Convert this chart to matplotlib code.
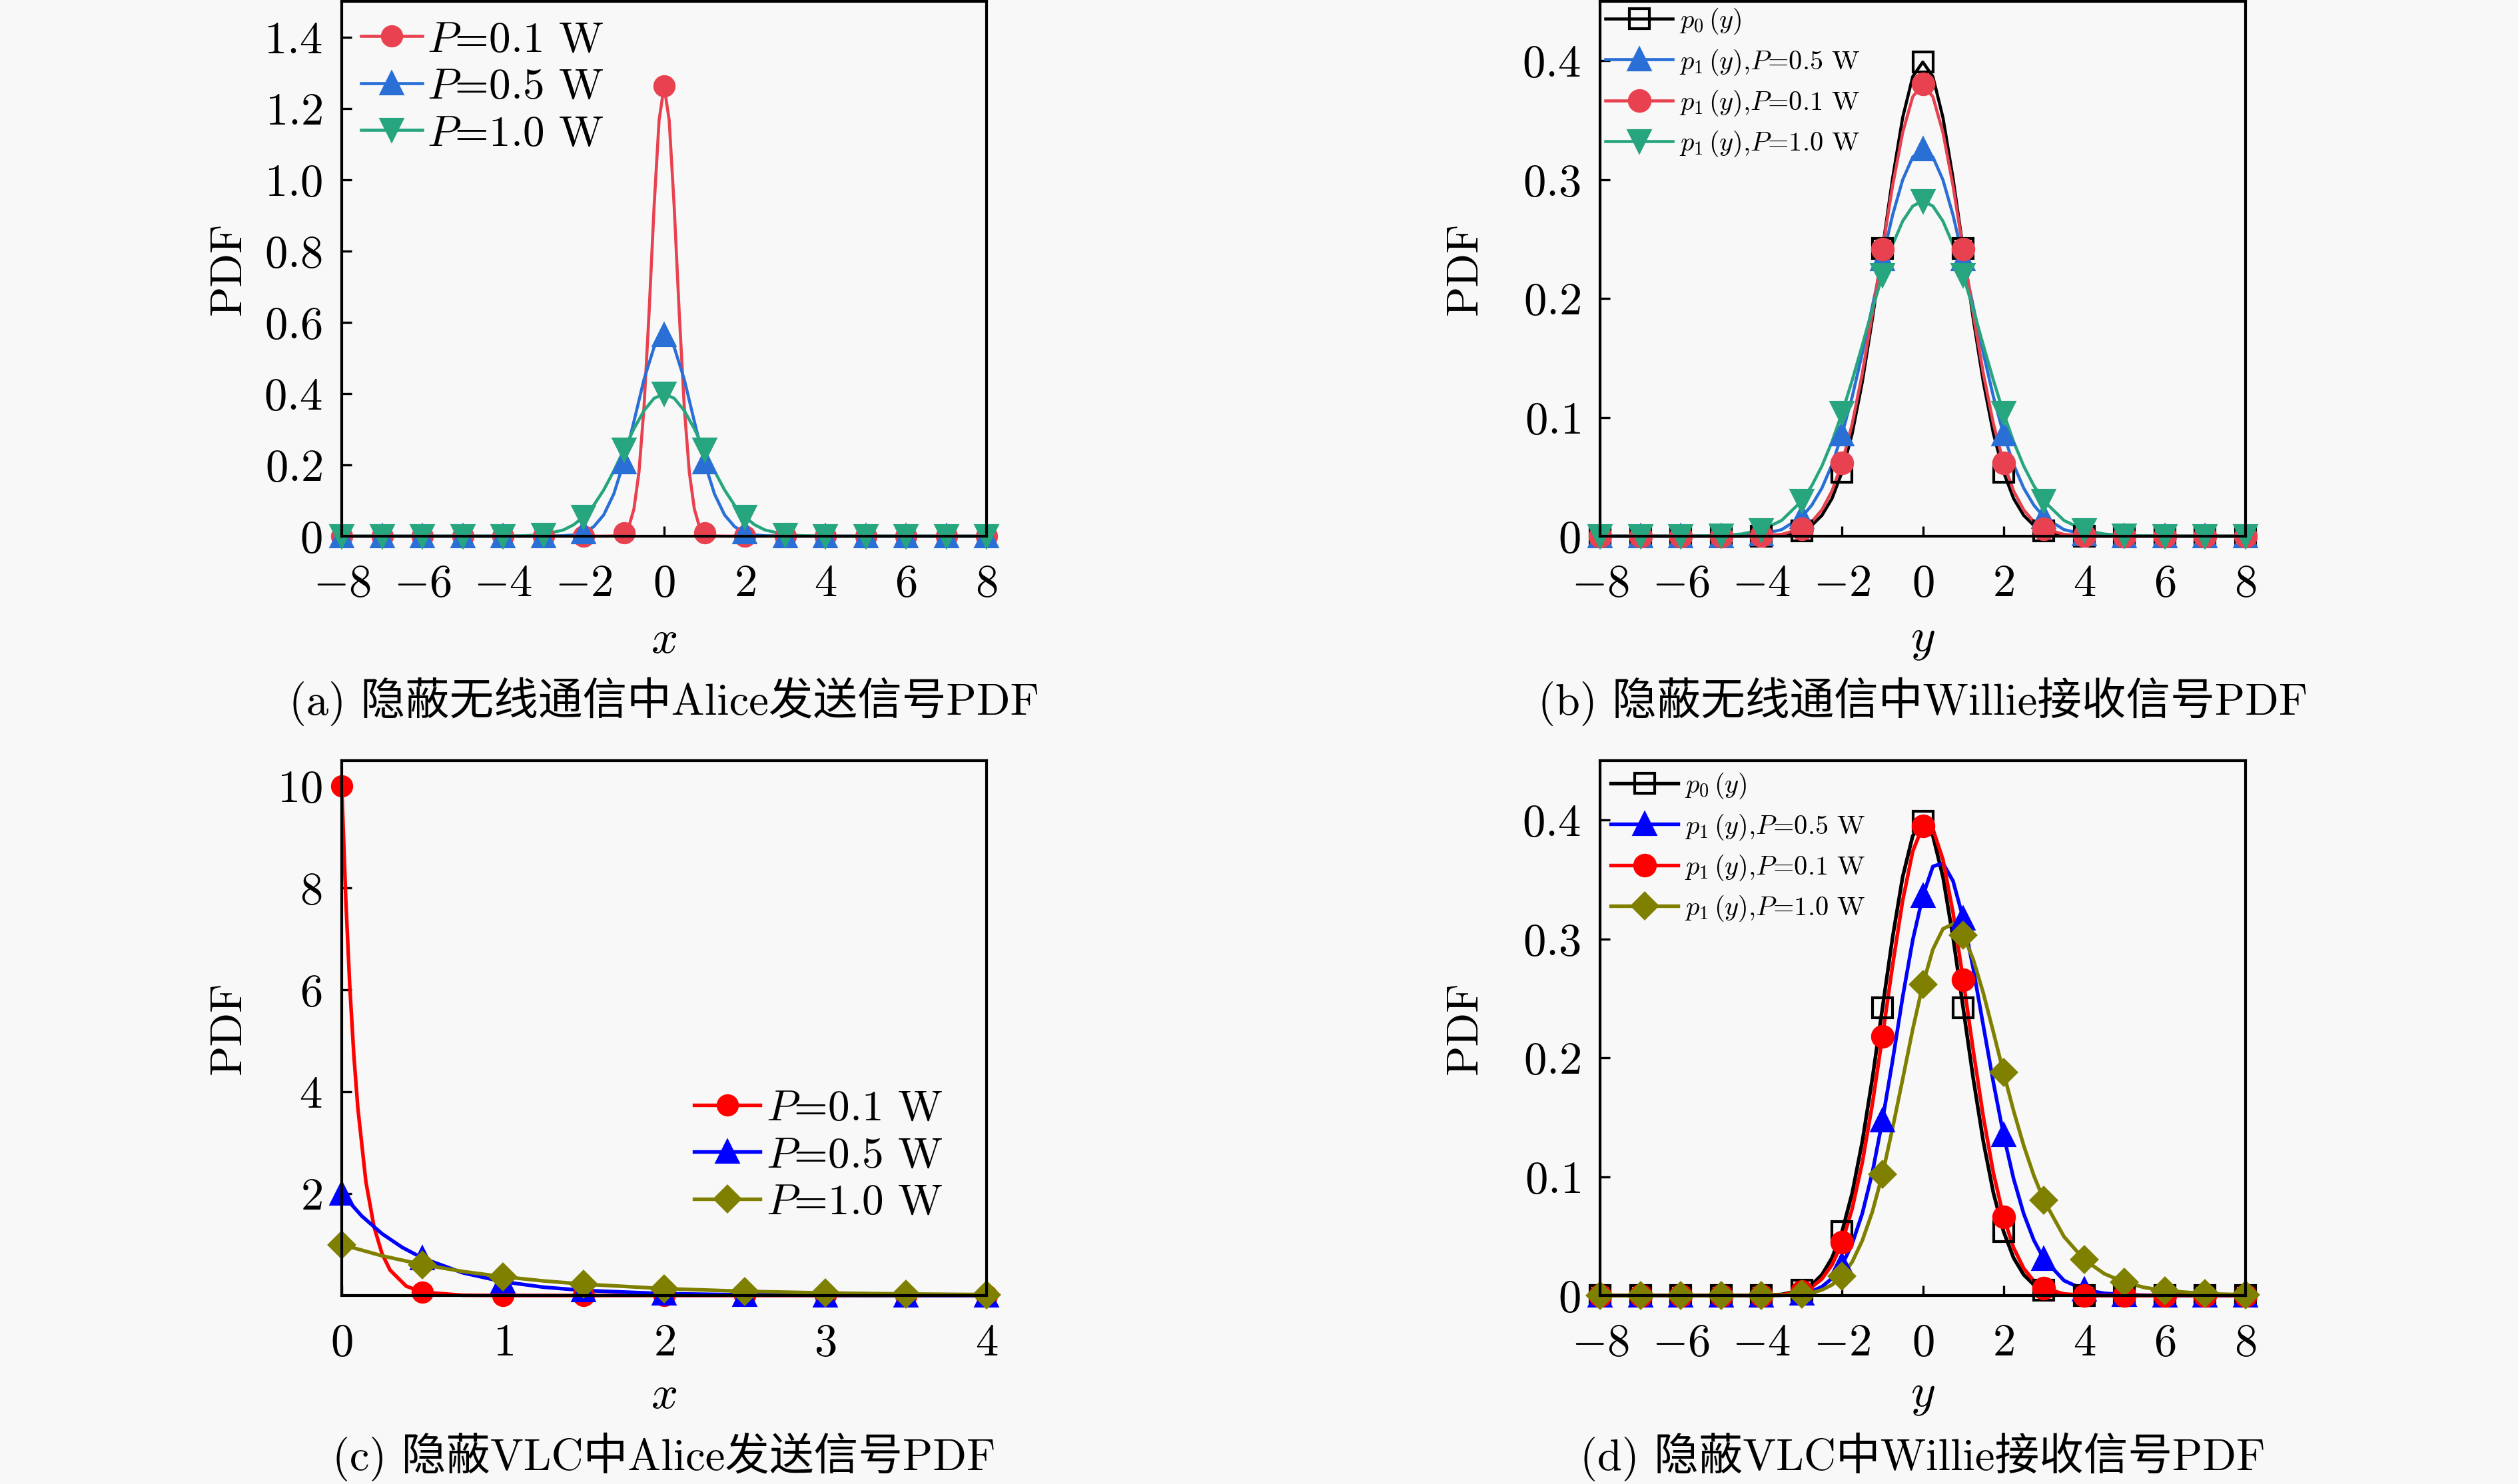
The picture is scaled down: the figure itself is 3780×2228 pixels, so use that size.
import matplotlib
matplotlib.use("Agg")
import matplotlib.pyplot as plt
from matplotlib.lines import Line2D

plt.rcParams['mathtext.fontset'] = 'cm'
plt.rcParams['font.family'] = ['cmr10', 'Noto Sans CJK SC', 'DejaVu Sans']
plt.rcParams['axes.unicode_minus'] = True

# ---------------- data ----------------
# (a) Alice transmit PDF (wireless)
A_XM = [-8, -7, -6, -5, -4, -3, -2, -1, 0, 1, 2, 3, 4, 5, 6, 7, 8]
A_P01_M = [0, 0, 0, 0, 0, 0, 0, 0.0085, 1.262, 0.0085, 0, 0, 0, 0, 0, 0, 0]
A_P05_M = [0, 0, 0, 0, 0, 0.0001, 0.0103, 0.2076, 0.5642, 0.2076, 0.0103, 0.0001, 0, 0, 0, 0, 0]
A_P10_M = [0, 0, 0, 0, 0.0001, 0.0044, 0.0540, 0.2420, 0.3989, 0.2420, 0.0540, 0.0044, 0.0001, 0, 0, 0, 0]
A_P01_CX = [-8, -1.5, -1.25, -1, -0.875, -0.75, -0.625, -0.5, -0.375, -0.25, -0.125, 0,
            0.125, 0.25, 0.375, 0.5, 0.625, 0.75, 0.875, 1, 1.25, 1.5, 8]
A_P01_C = [0, 0, 0.0005, 0.0085, 0.027, 0.076, 0.179, 0.361, 0.625, 0.923, 1.167, 1.262,
           1.167, 0.923, 0.625, 0.361, 0.179, 0.076, 0.027, 0.0085, 0.0005, 0, 0]
A_CX = [-8, -4, -3.5, -3, -2.5, -2.25, -2, -1.75, -1.5, -1.25, -1, -0.75, -0.5, -0.25, 0,
        0.25, 0.5, 0.75, 1, 1.25, 1.5, 1.75, 2, 2.25, 2.5, 3, 3.5, 4, 8]
A_P05_C = [0, 0, 0, 0.0001, 0.0011, 0.0036, 0.0103, 0.0264, 0.0595, 0.1182, 0.2076, 0.3215, 0.4394, 0.5300, 0.5642,
           0.5300, 0.4394, 0.3215, 0.2076, 0.1182, 0.0595, 0.0264, 0.0103, 0.0036, 0.0011, 0.0001, 0, 0, 0]
A_P10_C = [0, 0.0001, 0.0009, 0.0044, 0.0175, 0.0317, 0.0540, 0.0863, 0.1295, 0.1826, 0.2420, 0.3011, 0.3521, 0.3867, 0.3989,
           0.3867, 0.3521, 0.3011, 0.2420, 0.1826, 0.1295, 0.0863, 0.0540, 0.0317, 0.0175, 0.0044, 0.0009, 0.0001, 0]

# (b) Willie receive PDF (wireless)
B_XM = [-8, -7, -6, -5, -4, -3, -2, -1, 0, 1, 2, 3, 4, 5, 6, 7, 8]
B_P0_M = [0, 0, 0, 0, 0.0001, 0.0044, 0.0540, 0.2420, 0.3989, 0.2420, 0.0540, 0.0044, 0.0001, 0, 0, 0, 0]
B_P05_M = [0, 0, 0, 0.0001, 0.0016, 0.0162, 0.0859, 0.2334, 0.3257, 0.2334, 0.0859, 0.0162, 0.0016, 0.0001, 0, 0, 0]
B_P01_M = [0, 0, 0, 0, 0.0003, 0.0064, 0.0617, 0.2415, 0.3804, 0.2415, 0.0617, 0.0064, 0.0003, 0, 0, 0, 0]
B_P10_M = [0, 0, 0.00003, 0.0005, 0.0052, 0.0297, 0.1038, 0.2197, 0.2821, 0.2197, 0.1038, 0.0297, 0.0052, 0.0005, 0.00003, 0, 0]
B_CX = [-8, -6, -5, -4.5, -4, -3.5, -3, -2.75, -2.5, -2.25, -2, -1.75, -1.5, -1.25, -1, -0.75, -0.5, -0.25, 0,
        0.25, 0.5, 0.75, 1, 1.25, 1.5, 1.75, 2, 2.25, 2.5, 2.75, 3, 3.5, 4, 4.5, 5, 6, 8]
B_P0_C = [0, 0, 0, 0, 0.0001, 0.0009, 0.0044, 0.0091, 0.0175, 0.0317, 0.0540, 0.0863, 0.1295, 0.1826, 0.2420, 0.3011, 0.3521, 0.3867, 0.3989,
          0.3867, 0.3521, 0.3011, 0.2420, 0.1826, 0.1295, 0.0863, 0.0540, 0.0317, 0.0175, 0.0091, 0.0044, 0.0009, 0.0001, 0, 0, 0, 0]
B_P01_C = [0, 0, 0, 0.00004, 0.0003, 0.0015, 0.0064, 0.0122, 0.0222, 0.0381, 0.0617, 0.0946, 0.1368, 0.1870, 0.2415, 0.2946, 0.3395, 0.3697, 0.3804,
           0.3697, 0.3395, 0.2946, 0.2415, 0.1870, 0.1368, 0.0946, 0.0617, 0.0381, 0.0222, 0.0122, 0.0064, 0.0015, 0.0003, 0.00004, 0, 0, 0]
B_P05_C = [0, 0, 0.0001, 0.0004, 0.0016, 0.0055, 0.0162, 0.0262, 0.0405, 0.0603, 0.0859, 0.1173, 0.1539, 0.1935, 0.2334, 0.2700, 0.2997, 0.3190, 0.3257,
           0.3190, 0.2997, 0.2700, 0.2334, 0.1935, 0.1539, 0.1173, 0.0859, 0.0603, 0.0405, 0.0262, 0.0162, 0.0055, 0.0016, 0.0004, 0.0001, 0, 0]
B_P10_C = [0, 0.00003, 0.0005, 0.0018, 0.0052, 0.0132, 0.0297, 0.0426, 0.0591, 0.0796, 0.1038, 0.1312, 0.1607, 0.1909, 0.2197, 0.2451, 0.2650, 0.2777, 0.2821,
           0.2777, 0.2650, 0.2451, 0.2197, 0.1909, 0.1607, 0.1312, 0.1038, 0.0796, 0.0591, 0.0426, 0.0297, 0.0132, 0.0052, 0.0018, 0.0005, 0.00003, 0]

# (c) Alice transmit PDF (VLC)
C_XM = [0, 0.5, 1, 1.5, 2, 2.5, 3, 3.5, 4]
C_P01_M = [10, 0.067, 0.0005, 0, 0, 0, 0, 0, 0]
C_P05_M = [2, 0.736, 0.271, 0.0996, 0.0366, 0.0135, 0.005, 0.0018, 0.0007]
C_P10_M = [1, 0.607, 0.368, 0.223, 0.135, 0.082, 0.050, 0.030, 0.018]
C_P01_CX = [0, 0.025, 0.05, 0.075, 0.1, 0.15, 0.2, 0.25, 0.3, 0.4, 0.5, 0.75, 1, 4]
C_P01_C = [10, 7.788, 6.065, 4.724, 3.679, 2.231, 1.353, 0.821, 0.498, 0.183, 0.067, 0.0055, 0.0005, 0]
C_P05_CX = [0, 0.125, 0.25, 0.375, 0.5, 0.75, 1, 1.25, 1.5, 2, 2.5, 3, 3.5, 4]
C_P05_C = [2, 1.558, 1.213, 0.945, 0.736, 0.446, 0.271, 0.164, 0.0996, 0.0366, 0.0135, 0.005, 0.0018, 0.0007]
C_P10_CX = [0, 0.25, 0.5, 0.75, 1, 1.25, 1.5, 2, 2.5, 3, 3.5, 4]
C_P10_C = [1, 0.779, 0.607, 0.472, 0.368, 0.287, 0.223, 0.135, 0.082, 0.050, 0.030, 0.018]

# (d) Willie receive PDF (VLC)
D_XM = [-8, -7, -6, -5, -4, -3, -2, -1, 0, 1, 2, 3, 4, 5, 6, 7, 8]
D_P0_M = [0, 0, 0, 0, 0.0001, 0.0044, 0.0540, 0.2420, 0.3989, 0.2420, 0.0540, 0.0044, 0.0001, 0, 0, 0, 0]
D_P05_M = [0, 0, 0, 0, 0, 0.0017, 0.0255, 0.1474, 0.3360, 0.3173, 0.1353, 0.0308, 0.0048, 0.0007, 0.0001, 0, 0]
D_P01_M = [0, 0, 0, 0, 0, 0.0034, 0.0447, 0.2180, 0.3950, 0.2658, 0.0664, 0.0062, 0.0002, 0, 0, 0, 0]
D_P10_M = [0, 0, 0, 0, 0.00003, 0.0011, 0.0165, 0.1020, 0.2616, 0.3033, 0.1877, 0.0802, 0.0302, 0.0111, 0.0041, 0.0015, 0.0006]
D_CX = [-8, -6, -5, -4.5, -4, -3.5, -3, -2.75, -2.5, -2.25, -2, -1.75, -1.5, -1.25, -1, -0.75, -0.5, -0.25, 0,
        0.25, 0.5, 0.75, 1, 1.25, 1.5, 1.75, 2, 2.25, 2.5, 2.75, 3, 3.5, 4, 4.5, 5, 5.5, 6, 7, 8]
D_P0_C = B_P0_C
D_P05_C = [0, 0, 0, 0, 0.00001, 0.0003, 0.0017, 0.0036, 0.0074, 0.0144, 0.0255, 0.0436, 0.0690, 0.1035, 0.1474, 0.1974, 0.2510, 0.2990, 0.3360,
           0.3610, 0.3637, 0.3487, 0.3173, 0.2751, 0.2270, 0.1791, 0.1353, 0.0983, 0.0689, 0.0467, 0.0308, 0.0126, 0.0048, 0.0018, 0.0007, 0.00025, 0.0001, 0, 0]
D_P01_C = [0, 0, 0, 0.00001, 0.0001, 0.0006, 0.0034, 0.0071, 0.0140, 0.0258, 0.0447, 0.0730, 0.1118, 0.1610, 0.2180, 0.2776, 0.3321, 0.3736, 0.3950,
           0.3925, 0.3667, 0.3220, 0.2658, 0.2062, 0.1504, 0.1031, 0.0664, 0.0403, 0.0229, 0.0123, 0.0062, 0.0013, 0.0002, 0.00003, 0, 0, 0, 0, 0]
D_P10_C = [0, 0, 0, 0, 0.00003, 0.0002, 0.0011, 0.0023, 0.0047, 0.0090, 0.0165, 0.0283, 0.0462, 0.0705, 0.1020, 0.1407, 0.1819, 0.2239, 0.2616,
           0.2912, 0.3085, 0.3125, 0.3033, 0.2828, 0.2544, 0.2215, 0.1877, 0.1554, 0.1263, 0.1011, 0.0802, 0.0495, 0.0302, 0.0183, 0.0111, 0.0067, 0.0041, 0.0015, 0.0006]

# ticks / labels
X_TICKS_AB = [-8, -6, -4, -2, 0, 2, 4, 6, 8]
X_TICKLABELS_AB = [r'$-8$', r'$-6$', r'$-4$', r'$-2$', r'$0$', r'$2$', r'$4$', r'$6$', r'$8$']
A_YTICKS = [0, 0.2, 0.4, 0.6, 0.8, 1.0, 1.2, 1.4]
A_YTICKLABELS = [r'$0$', r'$0.2$', r'$0.4$', r'$0.6$', r'$0.8$', r'$1.0$', r'$1.2$', r'$1.4$']
B_YTICKS = [0, 0.1, 0.2, 0.3, 0.4]
B_YTICKLABELS = [r'$0$', r'$0.1$', r'$0.2$', r'$0.3$', r'$0.4$']
C_XTICKS = [0, 1, 2, 3, 4]
C_XTICKLABELS = [r'$0$', r'$1$', r'$2$', r'$3$', r'$4$']
C_YTICKS = [2, 4, 6, 8, 10]
C_YTICKLABELS = [r'$2$', r'$4$', r'$6$', r'$8$', r'$10$']

LEG_A = [r'$P$=0.1 W', r'$P$=0.5 W', r'$P$=1.0 W']
LEG_B = [r'$p_0\,(y)$', r'$p_1\,(y)$,$P$=0.5 W', r'$p_1\,(y)$,$P$=0.1 W', r'$p_1\,(y)$,$P$=1.0 W']
CAPTIONS = ['(a) 隐蔽无线通信中Alice发送信号PDF', '(b) 隐蔽无线通信中Willie接收信号PDF',
            '(c) 隐蔽VLC中Alice发送信号PDF', '(d) 隐蔽VLC中Willie接收信号PDF']

# ---------------- style ----------------
BG = '#f8f8f8'
RED1, BLUE1, GREEN1 = '#E8414F', '#2A6FD6', '#27A57F'
RED2, BLUE2, OLIVE2 = '#FF0000', '#0000FF', '#808000'
TICK_FS = 16.5
LAB_FS = 16
CAP_FS = 16

fig = plt.figure(figsize=(12.6, 7.4267), dpi=300, facecolor=BG)

W, H = 3780, 2228
def mkax(l, r, t, b):
    return fig.add_axes([l / W, 1 - b / H, (r - l) / W, (b - t) / H], facecolor=BG)

axA = mkax(513, 1481, 2, 805)
axB = mkax(2402, 3371, 2, 805)
axC = mkax(513, 1481, 1142, 1945)
axD = mkax(2402, 3371, 1142, 1945)

def style(ax):
    for s in ax.spines.values():
        s.set_linewidth(1.0)
        s.set_zorder(5)
    ax.tick_params(direction='in', length=3.5, width=0.8, labelsize=TICK_FS,
                   top=False, right=False)
    ax.tick_params(axis='x', pad=10)
    ax.tick_params(axis='y', pad=7)

def series(ax, cx, cy, mx, my, color, marker, ms, lw, mfc=None):
    ax.plot(cx, cy, color=color, lw=lw, zorder=3, clip_on=False)
    ax.plot(mx, my, ls='none', marker=marker, ms=ms, color=color,
            mfc=(color if mfc is None else mfc), mec=color, mew=1.0, zorder=4, clip_on=False)
    return Line2D([], [], color=color, lw=lw, marker=marker, ms=ms,
                  mfc=(color if mfc is None else mfc), mec=color, mew=1.0)

# (a)
style(axA)
hA = [series(axA, A_P01_CX, A_P01_C, A_XM, A_P01_M, RED1, 'o', 7, 1.1),
      series(axA, A_CX, A_P05_C, A_XM, A_P05_M, BLUE1, '^', 7.5, 1.1),
      series(axA, A_CX, A_P10_C, A_XM, A_P10_M, GREEN1, 'v', 7.5, 1.1)]
axA.set_xlim(-8, 8); axA.set_ylim(0, 1.5)
axA.set_xticks(X_TICKS_AB); axA.set_xticklabels(X_TICKLABELS_AB)
axA.set_yticks(A_YTICKS); axA.set_yticklabels(A_YTICKLABELS)
axA.legend(hA, LEG_A, loc='upper left', frameon=False, fontsize=15.7, handlelength=1.4,
           handletextpad=0.1, labelspacing=0.18, borderaxespad=0.35, borderpad=0.1)

# (b)
style(axB)
hB = [series(axB, B_CX, B_P0_C, B_XM, B_P0_M, 'black', 's', 7, 1.1, mfc='none'),
      series(axB, B_CX, B_P05_C, B_XM, B_P05_M, BLUE1, '^', 7.5, 1.1),
      series(axB, B_CX, B_P01_C, B_XM, B_P01_M, RED1, 'o', 7.5, 1.1),
      series(axB, B_CX, B_P10_C, B_XM, B_P10_M, GREEN1, 'v', 7.5, 1.1)]
axB.set_xlim(-8, 8); axB.set_ylim(0, 0.45)
axB.set_xticks(X_TICKS_AB); axB.set_xticklabels(X_TICKLABELS_AB)
axB.set_yticks(B_YTICKS); axB.set_yticklabels(B_YTICKLABELS)
axB.legend(hB, LEG_B, loc='upper left', frameon=False, fontsize=9.7, handlelength=2.5,
           handletextpad=0.25, labelspacing=0.42, borderaxespad=0.1, borderpad=0.1)

# (c)
style(axC)
hC = [series(axC, C_P01_CX, C_P01_C, C_XM, C_P01_M, RED2, 'o', 7, 1.3),
      series(axC, C_P05_CX, C_P05_C, C_XM, C_P05_M, BLUE2, '^', 7.5, 1.3),
      series(axC, C_P10_CX, C_P10_C, C_XM, C_P10_M, OLIVE2, 'D', 6.5, 1.3)]
axC.set_xlim(0, 4); axC.set_ylim(0, 10.5)
axC.set_xticks(C_XTICKS); axC.set_xticklabels(C_XTICKLABELS)
axC.set_yticks(C_YTICKS); axC.set_yticklabels(C_YTICKLABELS)
axC.legend(hC, LEG_A, loc='upper left', bbox_to_anchor=(0.547, 0.385), frameon=False, fontsize=15.7,
           handlelength=1.5, handletextpad=0.15, labelspacing=0.18, borderaxespad=0, borderpad=0)

# (d)
style(axD)
hD = [series(axD, B_CX, D_P0_C, D_XM, D_P0_M, 'black', 's', 7, 1.3, mfc='none'),
      series(axD, D_CX, D_P05_C, D_XM, D_P05_M, BLUE2, '^', 7.5, 1.3),
      series(axD, D_CX, D_P01_C, D_XM, D_P01_M, RED2, 'o', 7.5, 1.3),
      series(axD, D_CX, D_P10_C, D_XM, D_P10_M, OLIVE2, 'D', 6.5, 1.3)]
axD.set_xlim(-8, 8); axD.set_ylim(0, 0.45)
axD.set_xticks(X_TICKS_AB); axD.set_xticklabels(X_TICKLABELS_AB)
axD.set_yticks(B_YTICKS); axD.set_yticklabels(B_YTICKLABELS)
axD.legend(hD, LEG_B, loc='upper left', frameon=False, fontsize=9.7, handlelength=2.5,
           handletextpad=0.25, labelspacing=0.42, borderaxespad=0.3, borderpad=0.1)

# labels
for ax, xl, lx, ly in [(axA, r'$x$', -0.144, -0.156), (axB, r'$y$', -0.178, -0.156),
                       (axC, r'$x$', -0.144, -0.148), (axD, r'$y$', -0.178, -0.148)]:
    ax.set_ylabel('PDF', fontsize=LAB_FS)
    ax.yaxis.set_label_coords(lx, 0.5)
    ax.set_xlabel(xl, fontsize=LAB_FS + 1)
    ax.xaxis.set_label_coords(0.5, ly)

# captions
for ax, cap, yc in [(axA, CAPTIONS[0], 1053), (axB, CAPTIONS[1], 1053),
                    (axC, CAPTIONS[2], 2187), (axD, CAPTIONS[3], 2187)]:
    pos = ax.get_position()
    fig.text(pos.x0 + pos.width / 2, 1 - yc / H, cap, ha='center', va='center', fontsize=CAP_FS)

fig.savefig('out.png', dpi=300, facecolor=BG)
